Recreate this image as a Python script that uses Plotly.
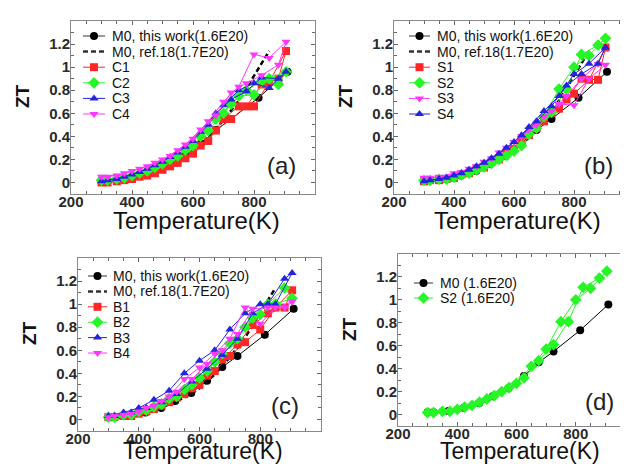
import plotly.graph_objects as go

# ---------------- data ----------------
# M0 this work (shared in all panels)
m0_T = [300, 320, 370, 422, 474, 520, 573, 625, 675, 725, 815, 910]
m0_ZT = [0.02, 0.02, 0.03, 0.06, 0.10, 0.16, 0.23, 0.335, 0.455, 0.55, 0.735, 0.96]

# M0 ref.18 (dashed)
ref_T = [300, 350, 400, 450, 500, 550, 600, 650, 700, 750, 800, 850]
ref_ZT = [0.0, 0.02, 0.04, 0.08, 0.13, 0.19, 0.27, 0.39, 0.54, 0.71, 0.92, 1.14]

# measurement path: heating (up) then cooling (down)
up_T = [300, 350, 400, 450, 500, 550, 600, 650, 700, 750, 800, 850, 905]
down_T = [880, 825, 775, 725, 675, 625, 575, 525, 475, 425, 375, 320]
path_T = up_T + down_T

# panel (a)
c1_ZT = [0.0, 0.01, 0.03, 0.06, 0.11, 0.17, 0.25, 0.36, 0.55, 0.66, 0.66, 0.87, 1.14,
         0.90, 0.85, 0.66, 0.55, 0.45, 0.32, 0.21, 0.14, 0.08, 0.05, 0.02, 0.0]
c2_ZT = [0.02, 0.03, 0.06, 0.10, 0.16, 0.23, 0.32, 0.45, 0.60, 0.75, 0.76, 0.90, 0.96,
         0.85, 0.88, 0.80, 0.68, 0.55, 0.40, 0.28, 0.20, 0.13, 0.08, 0.04, 0.02]
c3_ZT = [0.01, 0.03, 0.07, 0.12, 0.18, 0.26, 0.36, 0.50, 0.67, 0.80, 0.86, 0.82, 0.96,
         0.90, 0.91, 0.79, 0.72, 0.60, 0.44, 0.31, 0.22, 0.15, 0.09, 0.05, 0.02]
c4_ZT = [0.05, 0.06, 0.10, 0.14, 0.20, 0.28, 0.38, 0.53, 0.70, 0.83, 1.11, 1.08, 1.22,
         1.02, 0.93, 0.86, 0.78, 0.58, 0.46, 0.33, 0.23, 0.17, 0.12, 0.08, 0.05]

# panel (b)
s1_ZT = [0.01, 0.02, 0.04, 0.08, 0.13, 0.20, 0.29, 0.41, 0.53, 0.64, 0.77, 0.89, 1.17,
         0.89, 0.90, 0.72, 0.60, 0.47, 0.36, 0.26, 0.18, 0.12, 0.07, 0.03, 0.02]
s2_ZT = [0.017, 0.028, 0.045, 0.08, 0.136, 0.20, 0.272, 0.42, 0.57, 0.81, 1.0, 1.1, 1.25,
         1.19, 1.11, 0.81, 0.61, 0.47, 0.32, 0.235, 0.165, 0.108, 0.065, 0.028, 0.017]
s3_ZT = [0.04, 0.05, 0.08, 0.12, 0.18, 0.26, 0.35, 0.46, 0.57, 0.68, 0.67, 0.90, 1.02,
         1.03, 0.90, 0.75, 0.62, 0.50, 0.40, 0.30, 0.21, 0.14, 0.09, 0.05, 0.04]
s4_ZT = [0.01, 0.03, 0.06, 0.11, 0.17, 0.25, 0.35, 0.48, 0.62, 0.75, 0.94, 1.03, 1.17,
         1.03, 0.94, 0.84, 0.66, 0.53, 0.41, 0.30, 0.21, 0.14, 0.08, 0.04, 0.02]

# panel (c)
b1_ZT = [0.02, 0.03, 0.05, 0.09, 0.15, 0.22, 0.30, 0.42, 0.55, 0.67, 0.78, 0.97, 1.12,
         0.97, 0.92, 0.82, 0.65, 0.52, 0.38, 0.27, 0.19, 0.12, 0.07, 0.03, 0.02]
b2_ZT = [0.02, 0.04, 0.07, 0.11, 0.18, 0.26, 0.36, 0.50, 0.66, 0.80, 0.91, 1.00, 1.05,
         1.14, 1.00, 0.88, 0.70, 0.57, 0.42, 0.30, 0.20, 0.13, 0.08, 0.04, 0.02]
b3_ZT = [0.03, 0.06, 0.10, 0.17, 0.25, 0.40, 0.51, 0.60, 0.78, 0.92, 1.00, 1.00, 1.27,
         1.22, 1.00, 0.92, 0.70, 0.56, 0.44, 0.33, 0.22, 0.15, 0.10, 0.06, 0.03]
b4_ZT = [0.02, 0.04, 0.07, 0.12, 0.20, 0.35, 0.45, 0.57, 0.70, 0.97, 0.83, 0.97, 1.02,
         0.97, 0.97, 0.96, 0.74, 0.60, 0.48, 0.35, 0.24, 0.16, 0.10, 0.05, 0.03]

# legend / tick labels
m0_label = "M0, this work(1.6E20)"
ref_label = "M0, ref.18(1.7E20)"
d_m0_label = "M0 (1.6E20)"
d_s2_label = "S2 (1.6E20)"
x_ticks = [200, 400, 600, 800]
y_ticks = [0, 0.2, 0.4, 0.6, 0.8, 1.0, 1.2]
y_ticktext = ["0", "0.2", "0.4", "0.6", "0.8", "1", "1.2"]

# ---------------- style ----------------
RED = "#ff2626"
GREEN = "#26f526"
BLUE = "#2424dc"
MAG = "#ff36ff"
BLK = "#000000"
FONT = "Liberation Sans, Arial"
DASH = "5px,3px"

W, H = 628, 466
# panel boxes in pixels (left, right, top, bottom)
boxes = {
    1: (63, 307, 13, 186),
    2: (386, 626, 13, 186),
    3: (70, 313, 250, 423),
    4: (390, 627, 246, 418),
}
# x-title centre y (px), size, and panel-label offsets (from right, from bottom)
xtitle_y = {1: 212, 2: 212, 3: 443, 4: 443}
xtitle_size = {1: 24, 2: 24, 3: 23, 4: 23}
plabel_off = {1: (17, 13), 2: (19, 13), 3: (20, 10), 4: (19, 9)}
# legend placement per panel: line x0, line x1, text x, first row y, row step
leg_pos = {
    1: (75, 97, 102, 28, 15.6),
    2: (401, 422, 427, 28, 15.6),
    3: (80, 99, 103, 268, 15.4),
    4: (406, 425, 430, 275, 15.0),
}


def px_x(p):
    return p / W


def px_y(p):
    return 1 - p / H


fig = go.Figure()


def msize(sym):
    return 9 if sym == "diamond" else 8


def add(n, x, y, color, symbol, dash=None, mode="lines+markers", lw=1):
    sfx = "" if n == 1 else str(n)
    fig.add_trace(go.Scatter(
        x=x, y=y, mode=mode, showlegend=False,
        xaxis="x" + sfx, yaxis="y" + sfx,
        line=dict(color=color, width=lw, dash=dash),
        marker=dict(color=color, symbol=symbol, size=msize(symbol)),
    ))


series = {
    1: [("C1", c1_ZT, RED, "square"), ("C2", c2_ZT, GREEN, "diamond"),
        ("C3", c3_ZT, BLUE, "triangle-up"), ("C4", c4_ZT, MAG, "triangle-down")],
    2: [("S1", s1_ZT, RED, "square"), ("S2", s2_ZT, GREEN, "diamond"),
        ("S3", s3_ZT, MAG, "triangle-down"), ("S4", s4_ZT, BLUE, "triangle-up")],
    3: [("B1", b1_ZT, RED, "square"), ("B2", b2_ZT, GREEN, "diamond"),
        ("B3", b3_ZT, BLUE, "triangle-up"), ("B4", b4_ZT, MAG, "triangle-down")],
}

legend_entries = {}
for n in (1, 2, 3):
    ents = [(m0_label, BLK, "circle", "solid", "lines+markers", 1),
            (ref_label, BLK, "circle", DASH, "lines", 2.5)]
    add(n, m0_T, m0_ZT, BLK, "circle", lw=1)
    add(n, ref_T, ref_ZT, BLK, "circle", dash=DASH, mode="lines", lw=2.5)
    for name, zt, col, sym in series[n]:
        add(n, path_T, zt, col, sym)
        ents.append((name, col, sym, "solid", "lines+markers", 1))
    legend_entries[n] = ents

add(4, m0_T, m0_ZT, BLK, "circle")
add(4, path_T, s2_ZT, GREEN, "diamond")
legend_entries[4] = [(d_m0_label, BLK, "circle", "solid", "lines+markers", 1),
                     (d_s2_label, GREEN, "diamond", "solid", "lines+markers", 1)]

annotations = []
# custom legends drawn on a hidden pixel-space overlay axis
for n, ents in legend_entries.items():
    x0, x1, tx, y0, dy = leg_pos[n]
    for i, (name, col, sym, dash, mode, lw) in enumerate(ents):
        yy = y0 + i * dy
        fig.add_trace(go.Scatter(
            x=[x0, x1], y=[yy, yy], mode="lines", showlegend=False, hoverinfo="skip",
            xaxis="x5", yaxis="y5",
            line=dict(color=col if col != BLK else "#333", width=lw, dash=dash),
        ))
        if mode != "lines":
            fig.add_trace(go.Scatter(
                x=[(x0 + x1) / 2], y=[yy], mode="markers", showlegend=False, hoverinfo="skip",
                xaxis="x5", yaxis="y5", marker=dict(color=col, symbol=sym, size=msize(sym)),
            ))
        annotations.append(dict(
            text=name, xref="paper", yref="paper", x=px_x(tx), y=px_y(yy),
            xanchor="left", yanchor="middle", showarrow=False,
            font=dict(family=FONT, size=14, color="#111"),
        ))

tickfont = dict(family=FONT, size=15, color="#2a2a2a", weight="bold")
layout = dict(
    width=W, height=H, margin=dict(l=0, r=0, t=0, b=0),
    paper_bgcolor="white", plot_bgcolor="rgba(0,0,0,0)",
    showlegend=False, template="none",
)

labels = {1: "(a)", 2: "(b)", 3: "(c)", 4: "(d)"}
for n, (l, r, t, b) in boxes.items():
    sfx = "" if n == 1 else str(n)
    layout["xaxis" + sfx] = dict(
        domain=[px_x(l), px_x(r)], range=[200, 1000], anchor="y" + sfx, automargin=False,
        tickvals=x_ticks, ticks="inside", ticklen=4, tickcolor="#666",
        ticklabelstandoff=-6,
        showline=True, linecolor="#888", linewidth=1, mirror="allticks",
        showgrid=False, zeroline=False, tickfont=tickfont,
        minor=dict(dtick=50, ticks="inside", ticklen=3, tickcolor="#666", showgrid=False),
    )
    layout["yaxis" + sfx] = dict(
        domain=[px_y(b), px_y(t)], range=[-0.1, 1.4], anchor="x" + sfx, automargin=False,
        tickvals=y_ticks, ticktext=y_ticktext, ticks="inside", ticklen=4, tickcolor="#666",
        ticklabelstandoff=-3,
        showline=True, linecolor="#888", linewidth=1, mirror="allticks",
        showgrid=False, zeroline=False, tickfont=tickfont,
        minor=dict(dtick=0.1, ticks="inside", ticklen=3, tickcolor="#666", showgrid=False),
    )
    annotations.append(dict(
        text="Temperature(K)", xref="paper", yref="paper",
        x=px_x((l + r) / 2 + 3), y=px_y(xtitle_y[n]), xanchor="center", yanchor="middle",
        showarrow=False, font=dict(family=FONT, size=xtitle_size[n], color="#111"),
    ))
    annotations.append(dict(
        text="<b>ZT</b>", xref="paper", yref="paper", textangle=-90,
        x=px_x(l - 49), y=px_y(t + 75), xanchor="center", yanchor="middle",
        showarrow=False, font=dict(family=FONT, size=19, color="#111"),
    ))
    dx, dyb = plabel_off[n]
    annotations.append(dict(
        text=labels[n], xref="paper", yref="paper",
        x=px_x(r - dx), y=px_y(b - dyb), xanchor="right", yanchor="bottom",
        showarrow=False, font=dict(family=FONT, size=24, color="#222"),
    ))

layout["xaxis5"] = dict(domain=[0, 1], range=[0, W], visible=False, anchor="y5",
                        automargin=False, fixedrange=True)
layout["yaxis5"] = dict(domain=[0, 1], range=[H, 0], visible=False, anchor="x5",
                        automargin=False, fixedrange=True)
layout["annotations"] = annotations
fig.update_layout(**layout)
fig.write_html("out.html")
